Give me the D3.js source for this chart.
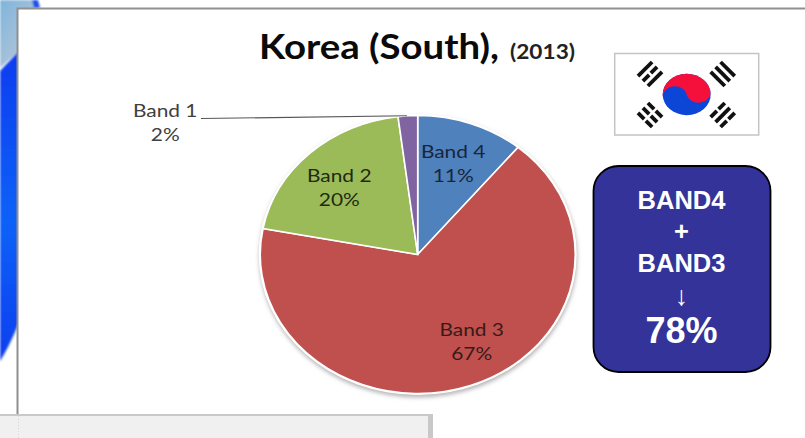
<!DOCTYPE html>
<html>
<head>
<meta charset="utf-8">
<script src="https://cdn.jsdelivr.net/npm/d3@7/dist/d3.min.js"></script>
<style>
html,body{margin:0;padding:0;background:#fff;overflow:hidden}
svg{display:block}
.lbl{font-family:Lato,"Open Sans",sans-serif;font-size:18px;text-anchor:middle}
.box{font-family:"Liberation Sans",Arial,sans-serif;fill:#fff;text-anchor:middle}
</style>
</head>
<body>
<script>
// Share of each band, clockwise from twelve o'clock
const bands = ["Band 4", "Band 3", "Band 2", "Band 1"];
const shares = [11, 67, 20, 2];
const colors = ["#4f81bd", "#c0504d", "#9bbb59", "#8064a2"];
const textColors = ["#17263a", "#3a1a18", "#1f2a10", "#404040"];
const titleMain = "Korea (South),";
const titleYear = "(2013)";
const boxLines = ["BAND4", "+", "BAND3", "↓", "78%"];

const W = 805, H = 438;
const svg = d3.select("body").append("svg").attr("width", W).attr("height", H);
const defs = svg.append("defs");

// The slide is shown wider than tall, so its type is widened to suit
function widen(sel, k) {
  const len = sel.node().getComputedTextLength();
  sel.attr("textLength", len * k).attr("lengthAdjust", "spacingAndGlyphs");
}

defs.append("filter").attr("id", "soft").attr("x", "-20%").attr("y", "-20%").attr("width", "140%").attr("height", "140%")
  .append("feGaussianBlur").attr("stdDeviation", 2);
defs.append("filter").attr("id", "edge").attr("x", "-30%").attr("y", "-10%").attr("width", "160%").attr("height", "120%")
  .append("feGaussianBlur").attr("stdDeviation", 0.8);

const blueGrad = defs.append("linearGradient").attr("id", "swoosh").attr("x1", 0).attr("y1", 0).attr("x2", 0).attr("y2", 1);
blueGrad.append("stop").attr("offset", 0).attr("stop-color", "#0a3cf0");
blueGrad.append("stop").attr("offset", 0.55).attr("stop-color", "#0f62f8");
blueGrad.append("stop").attr("offset", 1).attr("stop-color", "#0a3ef0");

const capGrad = defs.append("linearGradient").attr("id", "cap").attr("x1", 0).attr("y1", 0).attr("x2", 1).attr("y2", 1);
capGrad.append("stop").attr("offset", 0).attr("stop-color", "#7fb4dc");
capGrad.append("stop").attr("offset", 1).attr("stop-color", "#c4ccd6");

// Slide backdrop on the left margin
const back = svg.append("g").attr("filter", "url(#edge)");
back.append("path").attr("d", "M0,0 L32,0 C35,6 38,10 40,14 L20,14 L20,50 C14,56 6,62 0,68 Z").attr("fill", "url(#cap)");
back.append("path").attr("d", "M32,0 L38,0 L40,8 L34,8 Z").attr("fill", "#1f4fe8");
back.append("path").attr("d", "M0,71 C6,64 12,58 18,52 L20,52 L20,320 C14,335 7,350 0,361 Z").attr("fill", "url(#swoosh)");

// Slide frame
svg.append("rect").attr("x", 17.5).attr("y", 8.5).attr("width", W).attr("height", H)
  .attr("fill", "#fff").attr("stroke", "#8f8f8f").attr("stroke-width", 2);

// Title
const titleStyle = t => t.attr("y", 59)
  .style("font-family", 'Lato,"Open Sans",sans-serif').style("font-weight", 700);
const tMain = svg.append("text").attr("x", 259).attr("fill", "#0a0a0a").call(titleStyle)
  .style("font-size", "35px").text(titleMain);
widen(tMain, 240 / tMain.node().getComputedTextLength());
const tYear = svg.append("text").attr("x", 510).attr("fill", "#222").call(titleStyle)
  .style("font-size", "20.5px").text(titleYear);
widen(tYear, 65 / tYear.node().getComputedTextLength());

// Pie, drawn on a unit circle and squashed to the tilted ellipse
const cx = 417.7, cy = 254.5, rx = 157.5, ry = 139;
const sx = d3.scaleLinear().domain([-1, 1]).range([cx - rx, cx + rx]);
const sy = d3.scaleLinear().domain([-1, 1]).range([cy - ry, cy + ry]);
const pie = d3.pie().sort(null).value(d => d)(shares);
const arc = d3.arc().innerRadius(0).outerRadius(1);

svg.append("ellipse").attr("cx", cx + 0.5).attr("cy", cy + 2.5).attr("rx", rx + 1.5).attr("ry", ry + 1.5)
  .attr("fill", "#b5b5b5").attr("filter", "url(#soft)");
svg.append("ellipse").attr("cx", cx).attr("cy", cy).attr("rx", rx + 1.5).attr("ry", ry + 1.5).attr("fill", "#fff");

svg.append("g")
  .attr("transform", `translate(${sx(0)},${sy(0)}) scale(${rx},${ry})`)
  .selectAll("path").data(pie).join("path")
  .attr("d", arc)
  .attr("fill", (d, i) => colors[i])
  .attr("stroke", "#fff").attr("stroke-width", 1.6)
  .attr("vector-effect", "non-scaling-stroke");

// Slice labels, placed in unit-circle coordinates
const labelAt = [[0.225, -0.694], [0.343, 0.586], [-0.498, -0.524], [-1.603, -0.989]];
bands.forEach((b, i) => {
  const [u, v] = labelAt[i];
  [b, shares[i] + "%"].forEach((s, line) => {
    const t = svg.append("text").attr("class", "lbl").attr("fill", textColors[i])
      .attr("x", sx(u)).attr("y", sy(v) + line * 24).text(s);
    widen(t, 1.16);
  });
});

// Leader from the Band 1 label to its slice
const sliceMid = (pie[3].startAngle + pie[3].endAngle) / 2;
svg.append("path")
  .attr("d", d3.line()([[201, 118.5], [sx(Math.sin(sliceMid)) - 1, sy(-Math.cos(sliceMid))]]))
  .attr("stroke", "#555").attr("stroke-width", 1.2).attr("fill", "none");

// Flag of South Korea
const flag = svg.append("g").attr("transform", "translate(686.7,94.5)");
flag.append("rect").attr("x", -72).attr("y", -41).attr("width", 144).attr("height", 81.5)
  .attr("fill", "#fff").attr("stroke", "#c4c4c4").attr("stroke-width", 1.5);
const R = 24, Ry = 20.7;
const taegeuk = flag.append("g").attr("transform", `scale(1,${Ry / R}) rotate(-12)`);
taegeuk.append("circle").attr("r", R).attr("fill", "#0b46d6");
taegeuk.append("path")
  .attr("d", `M${-R},0 A${R},${R} 0 0 1 ${R},0 A${R / 2},${R / 2} 0 0 1 0,0 A${R / 2},${R / 2} 0 0 0 ${-R},0 Z`)
  .attr("fill", "#f5103c");

// Trigrams: true = solid bar, false = broken bar
const trigrams = [
  { x: -36.7, y: -20.5, a: -45, bars: [true, false, true] },
  { x: 36, y: -20.5, a: 45, bars: [true, true, true] },
  { x: -36.7, y: 20.5, a: 45, bars: [false, false, false] },
  { x: 36, y: 20.5, a: -45, bars: [false, true, false] }
];
trigrams.forEach(t => {
  const g = flag.append("g").attr("transform", `translate(${t.x},${t.y}) rotate(${t.a})`);
  [-7, 0, 7].forEach((dy, k) => {
    const segs = t.bars[k] ? [[-10, 10]] : [[-10, -1.2], [1.2, 10]];
    segs.forEach(s => g.append("rect").attr("x", s[0]).attr("y", dy - 1.9)
      .attr("width", s[1] - s[0]).attr("height", 3.8).attr("fill", "#111"));
  });
});

// Summary callout
svg.append("rect").attr("x", 593.5).attr("y", 166).attr("width", 177).attr("height", 206).attr("rx", 25)
  .attr("fill", "#333399").attr("stroke", "#000").attr("stroke-width", 1.8);
const boxY = [209, 240, 272, 304.5, 343];
const boxSize = [25.5, 25.5, 25.5, 27, 36];
boxLines.forEach((s, i) => {
  svg.append("text").attr("class", "box").attr("x", 681.5).attr("y", boxY[i])
    .style("font-size", boxSize[i] + "px").style("font-weight", i === 3 ? 400 : 700).text(s);
});

// Panel overlapping the bottom edge
svg.append("rect").attr("x", 0).attr("y", 414).attr("width", 433).attr("height", 24).attr("fill", "#c8c8c8");
svg.append("rect").attr("x", 0).attr("y", 416).attr("width", 428).attr("height", 22).attr("fill", "#f0f0f0");
svg.append("line").attr("x1", 18.5).attr("x2", 18.5).attr("y1", 416).attr("y2", 438)
  .attr("stroke", "#d4d4d4").attr("stroke-dasharray", "1 2");
</script>
</body>
</html>
